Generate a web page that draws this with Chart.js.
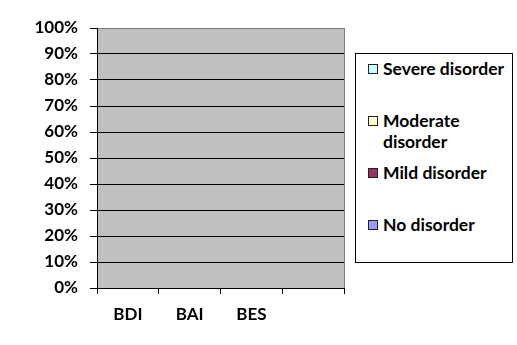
<!DOCTYPE html>
<html>
<head>
<meta charset="utf-8">
<script src="https://cdn.jsdelivr.net/npm/chart.js@4.4.1/dist/chart.umd.min.js"></script>
<style>
  body { margin: 0; background: #fff; }
  #wrap { position: relative; width: 517px; height: 345px; }
  #legend {
    position: absolute; left: 355px; top: 53px; width: 156px; height: 208px;
    border: 1px solid #000; background: #fff; overflow: hidden;
    font: bold 17.5px Lato, sans-serif; color: #000; box-sizing: content-box;
  }
  #legend .item { position: absolute; left: 12px; width: 144px; line-height: 21px; white-space: nowrap; }
  #legend .sw {
    position: absolute; left: 0; top: 6px; width: 8px; height: 8px;
    border: 1px solid #222;
  }
  #legend .txt { margin-left: 15px; }
</style>
</head>
<body>
<div id="wrap">
  <canvas id="chart" width="517" height="345"></canvas>
  <div id="legend"></div>
</div>
<script>
// categories on the x axis (the fourth slot is empty in the original)
const categories = ["BDI", "BAI", "BES", ""];

// series, bottom to top of the stack; every bar is empty in the picture
const noDisorder = [0, 0, 0, 0];
const mildDisorder = [0, 0, 0, 0];
const moderateDisorder = [0, 0, 0, 0];
const severeDisorder = [0, 0, 0, 0];

const seriesNames = ["No disorder", "Mild disorder", "Moderate disorder", "Severe disorder"];
const seriesColors = ["#9999FF", "#993366", "#FFFFCC", "#CCFFFF"];

// y axis ticks, percent
const yTicks = [0, 10, 20, 30, 40, 50, 60, 70, 80, 90, 100];

const seriesValues = [noDisorder, mildDisorder, moderateDisorder, severeDisorder];

const plotBackground = {
  id: "plotBackground",
  beforeDraw(chart) {
    const { ctx, chartArea: a } = chart;
    ctx.save();
    ctx.fillStyle = "#C0C0C0";
    ctx.fillRect(a.left, a.top, a.right - a.left, a.bottom - a.top);
    ctx.restore();
  },
  afterDraw(chart) {
    const { ctx, chartArea: a } = chart;
    ctx.save();
    ctx.strokeStyle = "#808080";
    ctx.lineWidth = 1;
    ctx.beginPath();
    ctx.moveTo(Math.round(a.right) + 0.5, a.top);
    ctx.lineTo(Math.round(a.right) + 0.5, a.bottom);
    ctx.stroke();
    ctx.restore();
  }
};

const font = { family: "Lato, sans-serif", size: 17, weight: "bold" };

new Chart(document.getElementById("chart"), {
  type: "bar",
  data: {
    labels: categories,
    datasets: seriesNames.map((name, i) => ({
      label: name,
      data: seriesValues[i],
      backgroundColor: seriesColors[i],
      borderColor: "#000",
      borderWidth: 1,
      barPercentage: 0.6,
      categoryPercentage: 1
    }))
  },
  options: {
    responsive: false,
    animation: false,
    layout: { padding: { top: 28, right: 173, bottom: 0, left: 0 } },
    plugins: { legend: { display: false }, tooltip: { enabled: false } },
    scales: {
      x: {
        stacked: true,
        border: { color: "#000", width: 1 },
        grid: { offset: true, drawOnChartArea: false, drawTicks: true, tickLength: 6, color: "#000" },
        ticks: { color: "#000", font: font, padding: 10, maxRotation: 0 },
        afterFit(scale) { scale.height = 57; }
      },
      y: {
        stacked: true,
        min: 0,
        max: 100,
        afterBuildTicks(scale) { scale.ticks = yTicks.map(v => ({ value: v })); },
        border: { color: "#000", width: 1 },
        grid: {
          color: ctx => (ctx.tick && ctx.tick.value === 100 ? "#808080" : "#000"),
          tickColor: "#000",
          tickLength: 7
        },
        ticks: { color: "#000", font: font, padding: 12, callback: v => v + "%" },
        afterFit(scale) { scale.width = 97; }
      }
    }
  },
  plugins: [plotBackground]
});

// legend, top to bottom as in the original (reverse of stack order)
const legend = document.getElementById("legend");
const legendLines = { "Moderate disorder": "Moderate<br>disorder" };
seriesNames.slice().reverse().forEach((name, i) => {
  const color = seriesColors[seriesNames.length - 1 - i];
  const item = document.createElement("div");
  item.className = "item";
  item.style.top = (4 + i * 52) + "px";
  item.innerHTML = '<span class="sw" style="background:' + color + '"></span>' +
    '<div class="txt">' + (legendLines[name] || name) + "</div>";
  legend.appendChild(item);
});
</script>
</body>
</html>
